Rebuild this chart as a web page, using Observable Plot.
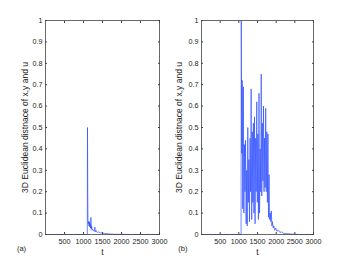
<!DOCTYPE html>
<html><head><meta charset="utf-8">
<script src="https://cdn.jsdelivr.net/npm/d3@7"></script>
<script src="https://cdn.jsdelivr.net/npm/@observablehq/plot@0.6"></script>
<style>
html,body{margin:0;padding:0;background:#fff;}
#c{position:relative;width:350px;height:264px;overflow:hidden;}
#c svg{position:absolute;top:0;}
</style></head><body>
<div id="c"></div>
<script>
// Panel (a)
const tA = [0, 1100, 1105, 1112, 1118, 1125, 1135, 1145, 1155, 1165, 1175, 1185, 1195, 1205, 1215, 1225, 1240, 1260, 1280, 1300, 1310, 1330, 1360, 1400, 1450, 1500, 1550, 1600, 1700, 1800, 2000, 2200, 3000];
const dA = [0, 0, 0.5, 0.19, 0.07, 0.05, 0.06, 0.04, 0.06, 0.035, 0.05, 0.03, 0.08, 0.025, 0.04, 0.02, 0.025, 0.018, 0.015, 0.035, 0.012, 0.02, 0.01, 0.012, 0.007, 0.008, 0.004, 0.004, 0.002, 0.001, 0.001, 0, 0];
// Panel (b)
const tB = [0,1060,1065,1080,1090,1105,1120,1135,1150,1165,1180,1195,1210,1225,1240,1255,1270,1285,1300,1315,1330,1345,1360,1375,1390,1405,1420,1435,1450,1465,1480,1495,1510,1525,1540,1555,1570,1585,1600,1615,1630,1645,1660,1675,1690,1705,1720,1735,1750,1765,1780,1795,1810,1825,1840,1855,1870,1885,1900,1920,1940,1960,1990,2020,2060,2100,2150,2200,2300,2400,2600,3000];
const dB = [0,0,1.0,0.38,0.72,0.12,0.69,0.1,0.42,0.2,0.44,0.05,0.3,0.04,0.5,0.15,0.35,0.06,0.45,0.2,0.68,0.07,0.48,0.15,0.52,0.1,0.55,0.05,0.45,0.2,0.62,0.15,0.47,0.07,0.66,0.1,0.4,0.2,0.75,0.18,0.52,0.25,0.6,0.2,0.45,0.22,0.59,0.2,0.48,0.15,0.47,0.08,0.28,0.07,0.1,0.06,0.11,0.04,0.06,0.03,0.04,0.02,0.03,0.015,0.02,0.01,0.012,0.005,0.004,0.002,0,0];
const xTicks = [500, 1000, 1500, 2000, 2500, 3000];
const yTicks = [0, 0.1, 0.2, 0.3, 0.4, 0.5, 0.6, 0.7, 0.8, 0.9, 1];
const yLabel = "3D Euclidean distnace of x,y and u";
const xLabel = "t";
const panelLabels = ["(a)", "(b)"];

function panel(ts, ds, opts) {
  const data = ts.map((t, i) => ({t, d: ds[i]}));
  return Plot.plot({
    width: 175, height: 264,
    marginLeft: opts.ml, marginRight: opts.mr, marginTop: 20, marginBottom: 30,
    style: {fontFamily: "'Liberation Sans', Arial, sans-serif", fontSize: "7.2px", color: "#222", background: "transparent"},
    x: {domain: [0, 3000]},
    y: {domain: [0, 1]},
    marks: [
      Plot.line(data, {x: "t", y: "d", stroke: "#2446ff", strokeWidth: 0.65}),
      Plot.frame({stroke: "#444", strokeWidth: 0.8}),
      Plot.axisX(xTicks, {anchor: "bottom", tickSize: -2, tickPadding: 6, tickFormat: d => String(d), label: null, stroke: "#444", fill: "#222"}),
      Plot.axisX(xTicks, {anchor: "top", tickSize: -2, tickFormat: () => "", label: null, stroke: "#444"}),
      Plot.axisY(yTicks, {anchor: "left", tickSize: -2, tickPadding: 5, tickFormat: d => String(d), label: null, stroke: "#444", fill: "#222"}),
      Plot.axisY(yTicks, {anchor: "right", tickSize: -2, tickFormat: () => "", label: null, stroke: "#444"}),
      Plot.text([xLabel], {frameAnchor: "bottom", lineAnchor: "middle", textAnchor: "middle", dy: 18, fontSize: 8.5, fill: "#222"}),
      Plot.text([yLabel], {frameAnchor: "left", lineAnchor: "middle", textAnchor: "middle", rotate: -90, dx: opts.yl, fontSize: 8.5, fill: "#222"}),
      Plot.text([opts.tag], {frameAnchor: "bottom-left", lineAnchor: "middle", textAnchor: "middle", dx: opts.tx, dy: 14, fontSize: 7.5, fill: "#222"})
    ]
  });
}

const c = document.getElementById("c");
const a = panel(tA, dA, {ml: 45, mr: 16, yl: -20.5, tag: panelLabels[0], tx: -24});
a.style.left = "0px";
const b = panel(tB, dB, {ml: 26, mr: 37, yl: -22, tag: panelLabels[1], tx: -18.7});
b.style.left = "175px";
c.appendChild(a);
c.appendChild(b);
</script>
</body></html>
